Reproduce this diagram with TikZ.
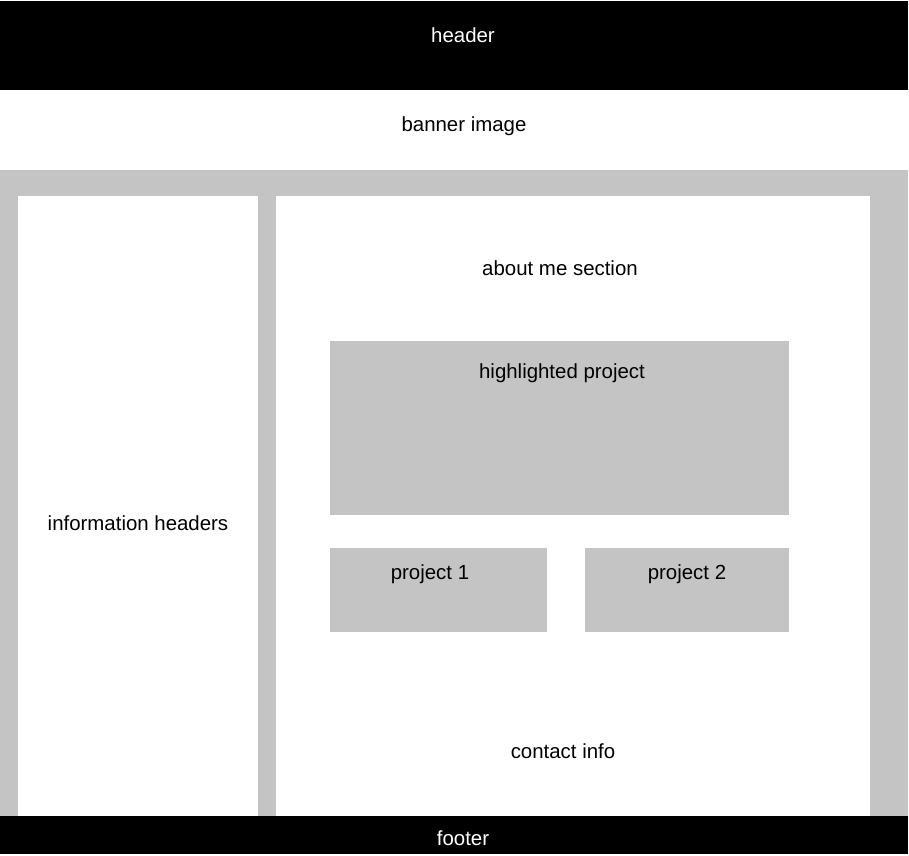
\documentclass[tikz,border=0pt]{standalone}
\usepackage{fontspec}
\setmainfont{Liberation Sans}
\usetikzlibrary{positioning}
\definecolor{panelgray}{RGB}{196,196,196}
\newcommand{\txtsize}{\fontsize{20.5}{23}\selectfont}

\begin{document}
\begin{tikzpicture}[x=1bp,y=-1bp]
            \tikzset{box/.style = {anchor=north west, inner sep=0pt, outer sep=0pt, draw=none}}
            \tikzset{darkbar/.style = {box, fill=black}}
            \tikzset{graybox/.style = {box, fill=panelgray}}
            \tikzset{whitebox/.style = {box, fill=white}}
            \tikzset{lbl/.style = {font=\txtsize, inner sep=0pt}}
            \useasboundingbox (0,0) rectangle (909,856);
            \fill[white] (0,0) rectangle (909,856);
            % bars
            \node[darkbar, minimum width=908bp, minimum height=89bp] (header) at (0,1) {};
            \node[whitebox, minimum width=908bp, minimum height=80bp] (banner) at (0,90) {};
            \node[graybox, minimum width=908bp, minimum height=646bp] (body) at (0,170) {};
            \node[darkbar, minimum width=908bp, minimum height=38bp] (footer) at (0,816) {};
            % panels
            \node[whitebox, minimum width=240bp, minimum height=620bp] (sidebar) at (18,196) {};
            \node[whitebox, minimum width=594bp, minimum height=620bp] (main) at (276,196) {};
            \node[graybox, minimum width=459bp, minimum height=174bp] (highlight) at (330,341) {};
            \node[graybox, minimum width=217bp, minimum height=84bp] (proja) at (330,548) {};
            \node[graybox, minimum width=204bp, minimum height=84bp] (projb) at (585,548) {};
            % texts
            \node[lbl, text=white] (headertxt) at (463,35) {header};
            \node[lbl] (bannertxt) at (464,126) {banner image};
            \node[lbl] (sidetxt) at (138,523) {information headers};
            \node[lbl] (abouttxt) at (560,268) {about me section};
            \node[lbl] (hltxt) at (562,373) {highlighted project};
            \node[lbl] (projatxt) at (430,574) {project 1};
            \node[lbl] (projbtxt) at (687,574) {project 2};
            \node[lbl] (contacttxt) at (563,751) {contact info};
            \node[lbl, text=white] (footertxt) at (463,838) {footer};
        \end{tikzpicture}
\end{document}
